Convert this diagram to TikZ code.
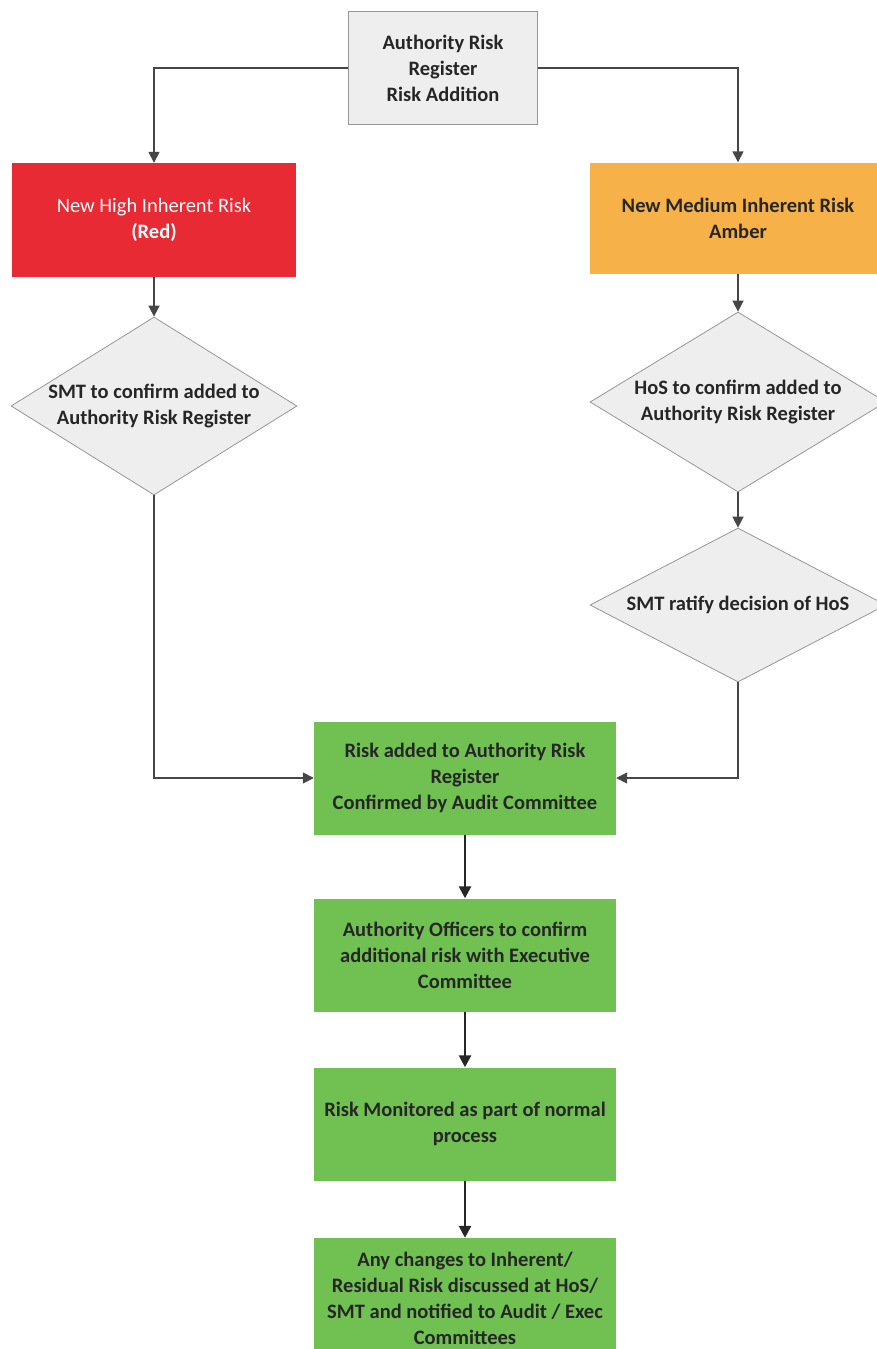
\documentclass[tikz,border=0pt]{standalone}
\usepackage{fontspec}
\setmainfont{Carlito}
\usetikzlibrary{shapes.geometric,arrows.meta}
\definecolor{boxgray}{RGB}{238,238,238}
\definecolor{edgegray}{RGB}{150,150,150}
\definecolor{riskred}{RGB}{232,42,52}
\definecolor{amber}{RGB}{246,178,72}
\definecolor{riskgreen}{RGB}{112,192,82}
\definecolor{linegray}{RGB}{70,70,70}
\tikzset{
  x=1pt, y=-1pt,
  txt/.style={font=\fontsize{20.5}{26}\selectfont\bfseries, align=center, text=black!85},
  rbox/.style={rectangle, minimum width=#1, inner sep=0pt},
  graybox/.style={rbox=189pt, minimum height=113pt, fill=boxgray, draw=edgegray, line width=1pt},
  redbox/.style={rbox=284pt, minimum height=114pt, fill=riskred},
  amberbox/.style={rbox=296pt, minimum height=111pt, fill=amber},
  greenbox/.style={rbox=302pt, minimum height=113pt, fill=riskgreen},
  dia/.style={diamond, fill=boxgray, draw=edgegray, line width=0.8pt, inner sep=0pt, minimum width=#1},
  conn/.style={draw=linegray, line width=1.6pt, -{Triangle[length=11pt,width=11pt]}},
  thick conn/.style={draw=black!85, line width=2.6pt, -{Triangle[length=12pt,width=12pt]}},
}
\begin{document}
\begin{tikzpicture}
\useasboundingbox (0,0) rectangle (877,1349);
% boxes
\node[graybox] (top) at (443,68) {};
\node[txt] at (top) {Authority Risk\\Register\\Risk Addition};
\node[redbox] (red) at (154,220) {};
\node[txt, text=white] at (red) {\mdseries New High Inherent Risk\\(Red)};
\node[amberbox] (amb) at (738,218) {};
\node[txt] at (amb) {New Medium Inherent Risk\\Amber};
\node[dia=286pt, minimum height=178pt] (d1) at (154,406) {};
\node[txt] at (d1) {SMT to confirm added to\\Authority Risk Register};
\node[dia=296pt, minimum height=180pt] (d2) at (738,402) {};
\node[txt] at (d2) {HoS to confirm added to\\Authority Risk Register};
\node[dia=296pt, minimum height=154pt] (d3) at (738,605) {};
\node[txt] at (d3) {SMT ratify decision of HoS};
\node[greenbox] (g1) at (465,778) {};
\node[txt] at (g1) {Risk added to Authority Risk\\Register\\Confirmed by Audit Committee};
\node[greenbox] (g2) at (465,955) {};
\node[txt] at (g2) {Authority Officers to confirm\\additional risk with Executive\\Committee};
\node[greenbox] (g3) at (465,1124) {};
\node[txt] at (g3) {Risk Monitored as part of normal\\process};
\node[greenbox, minimum height=130pt] (g4) at (465,1303) {};
\node[txt] at (465,1298) {Any changes to Inherent/\\Residual Risk discussed at HoS/\\SMT and notified to Audit / Exec\\Committees};
% connectors
\draw[conn] (top.west) -| (red.north);
\draw[conn] (top.east) -| (amb.north);
\draw[conn] (red.south) -- (d1.north);
\draw[conn] (amb.south) -- (d2.north);
\draw[conn] (d2.south) -- (d3.north);
\draw[conn] (d1.south) |- (g1.west);
\draw[conn] (d3.south) |- (g1.east);
\draw[thick conn] (g1.south) -- (g2.north);
\draw[thick conn] (g2.south) -- (g3.north);
\draw[thick conn] (g3.south) -- (g4.north);
\end{tikzpicture}
\end{document}
